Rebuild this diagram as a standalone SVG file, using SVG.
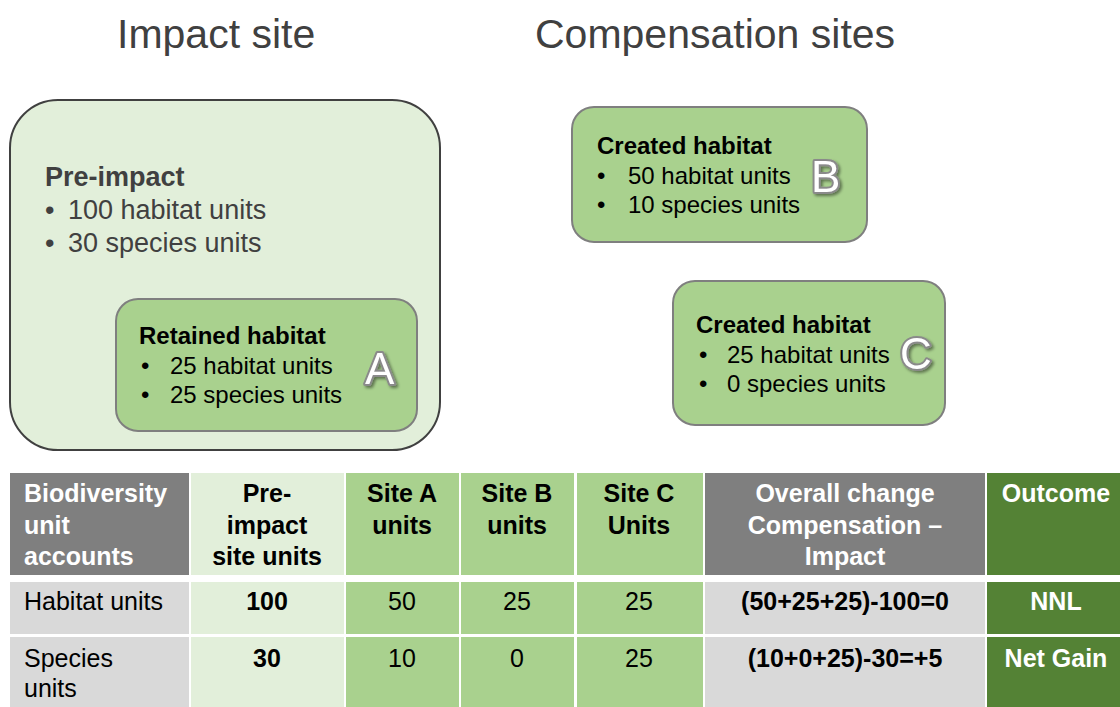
<svg xmlns="http://www.w3.org/2000/svg" width="1120" height="707" viewBox="0 0 1120 707">
<defs>
<filter id="sh" x="-30%" y="-30%" width="160%" height="160%">
<feDropShadow dx="2" dy="2" stdDeviation="1.5" flood-color="#000" flood-opacity="0.45"/>
</filter>
<style>
text{font-family:"Liberation Sans",Arial,sans-serif}
.title{font-size:41px;fill:#404040}
.outer{fill:#e2efda;stroke:#404040;stroke-width:2}
.inner{fill:#a9d18e;stroke:#7f7f7f;stroke-width:2}
.pre{font-size:27px;fill:#404040}
.bx{font-size:24px;fill:#000}
.b{font-weight:bold}
.letter{font-size:44px;fill:#fff;stroke:#8a8a8a;stroke-width:4;stroke-linejoin:round;paint-order:stroke;filter:url(#sh)}
.tb{font-size:25px}
.c{text-anchor:middle}
.w{fill:#fff}
.k{fill:#000}
.hg{fill:#7f7f7f}.lg{fill:#d9d9d9}.pg{fill:#e2efda}.mg{fill:#a9d18e}.dg{fill:#548235}
</style>
</defs>
<rect width="1120" height="707" fill="#fff"/>
<g id="titles">
<text class="title" x="117" y="48">Impact site</text>
<text class="title" x="535" y="48">Compensation sites</text>
</g>
<g id="impact-site">
<rect class="outer" x="10" y="100" width="430" height="350" rx="48"/>
<text class="pre b" x="45" y="186">Pre-impact</text>
<text class="pre" x="45" y="219">•<tspan x="68">100 habitat units</tspan></text>
<text class="pre" x="45" y="252">•<tspan x="68">30 species units</tspan></text>
</g>
<g id="site-a">
<rect class="inner" x="116" y="299" width="301" height="132" rx="22"/>
<text class="bx b" x="139" y="344">Retained habitat</text>
<text class="bx" x="141" y="374">•<tspan x="170">25 habitat units</tspan></text>
<text class="bx" x="141" y="403">•<tspan x="170">25 species units</tspan></text>
<text class="letter" x="365" y="384">A</text>
</g>
<g id="site-b">
<rect class="inner" x="572" y="107" width="295" height="135" rx="22"/>
<text class="bx b" x="597" y="154">Created habitat</text>
<text class="bx" x="597" y="184">•<tspan x="628">50 habitat units</tspan></text>
<text class="bx" x="597" y="213">•<tspan x="628">10 species units</tspan></text>
<text class="letter" x="811" y="192">B</text>
</g>
<g id="site-c">
<rect class="inner" x="673" y="281" width="272" height="144" rx="22"/>
<text class="bx b" x="696" y="333">Created habitat</text>
<text class="bx" x="699" y="363">•<tspan x="727">25 habitat units</tspan></text>
<text class="bx" x="699" y="392">•<tspan x="727">0 species units</tspan></text>
<text class="letter" x="900" y="369">C</text>
</g>
<g id="connectors"></g>
<g id="table">
<g id="table-cells">
<rect class="hg" x="10" y="473" width="179" height="102"/>
<rect class="pg" x="191" y="473" width="153" height="102"/>
<rect class="mg" x="346" y="473" width="113" height="102"/>
<rect class="mg" x="461" y="473" width="113" height="102"/>
<rect class="mg" x="577" y="473" width="126" height="102"/>
<rect class="hg" x="705" y="473" width="280" height="102"/>
<rect class="dg" x="987" y="473" width="133" height="102"/>
<rect class="lg" x="10" y="582" width="179" height="52"/>
<rect class="pg" x="191" y="582" width="153" height="52"/>
<rect class="mg" x="346" y="582" width="113" height="52"/>
<rect class="mg" x="461" y="582" width="113" height="52"/>
<rect class="mg" x="577" y="582" width="126" height="52"/>
<rect class="lg" x="705" y="582" width="280" height="52"/>
<rect class="dg" x="987" y="582" width="133" height="52"/>
<rect class="lg" x="10" y="637" width="179" height="70"/>
<rect class="pg" x="191" y="637" width="153" height="70"/>
<rect class="mg" x="346" y="637" width="113" height="70"/>
<rect class="mg" x="461" y="637" width="113" height="70"/>
<rect class="mg" x="577" y="637" width="126" height="70"/>
<rect class="lg" x="705" y="637" width="280" height="70"/>
<rect class="dg" x="987" y="637" width="133" height="70"/>
</g>
<g id="table-header">
<text class="tb b w" x="24" y="502">Biodiversity</text>
<text class="tb b w" x="24" y="534">unit</text>
<text class="tb b w" x="24" y="565">accounts</text>
<text class="tb b k c" x="267" y="502">Pre-</text>
<text class="tb b k c" x="267" y="534">impact</text>
<text class="tb b k c" x="267" y="565">site units</text>
<text class="tb b k c" x="402" y="502">Site A</text>
<text class="tb b k c" x="402" y="534">units</text>
<text class="tb b k c" x="517" y="502">Site B</text>
<text class="tb b k c" x="517" y="534">units</text>
<text class="tb b k c" x="639" y="502">Site C</text>
<text class="tb b k c" x="639" y="534">Units</text>
<text class="tb b w c" x="845" y="502">Overall change</text>
<text class="tb b w c" x="845" y="534">Compensation –</text>
<text class="tb b w c" x="845" y="565">Impact</text>
<text class="tb b w c" x="1056" y="502">Outcome</text>
</g>
<g id="row-habitat">
<text class="tb k" x="24" y="610">Habitat units</text>
<text class="tb b k c" x="267" y="610">100</text>
<text class="tb k c" x="402" y="610">50</text>
<text class="tb k c" x="517" y="610">25</text>
<text class="tb k c" x="639" y="610">25</text>
<text class="tb b k c" x="845" y="610">(50+25+25)-100=0</text>
<text class="tb b w c" x="1056" y="610">NNL</text>
</g>
<g id="row-species">
<text class="tb k" x="24" y="667">Species</text>
<text class="tb k" x="24" y="697">units</text>
<text class="tb b k c" x="267" y="667">30</text>
<text class="tb k c" x="402" y="667">10</text>
<text class="tb k c" x="517" y="667">0</text>
<text class="tb k c" x="639" y="667">25</text>
<text class="tb b k c" x="845" y="667">(10+0+25)-30=+5</text>
<text class="tb b w c" x="1056" y="667">Net Gain</text>
</g>
</g>
</svg>
